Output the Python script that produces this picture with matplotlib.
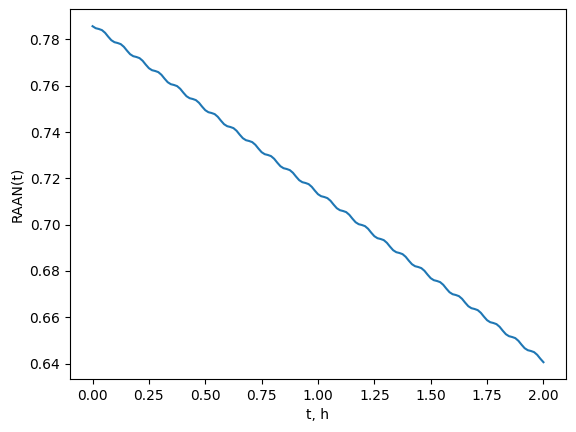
import numpy as np
import matplotlib
matplotlib.use("Agg")
import matplotlib.pyplot as plt

raan = [
    0.78570, 0.78484, 0.78450, 0.78401, 0.78286, 0.78118,
    0.77965, 0.77879, 0.77845, 0.77796, 0.77681, 0.77514,
    0.77361, 0.77275, 0.77241, 0.77192, 0.77077, 0.76909,
    0.76756, 0.76670, 0.76636, 0.76587, 0.76472, 0.76305,
    0.76152, 0.76066, 0.76032, 0.75983, 0.75867, 0.75700,
    0.75547, 0.75461, 0.75427, 0.75378, 0.75263, 0.75095,
    0.74943, 0.74856, 0.74822, 0.74774, 0.74658, 0.74491,
    0.74338, 0.74252, 0.74218, 0.74169, 0.74054, 0.73886,
    0.73734, 0.73647, 0.73613, 0.73564, 0.73449, 0.73282,
    0.73129, 0.73043, 0.73009, 0.72960, 0.72845, 0.72677,
    0.72524, 0.72438, 0.72404, 0.72355, 0.72240, 0.72073,
    0.71920, 0.71834, 0.71800, 0.71751, 0.71635, 0.71468,
    0.71315, 0.71229, 0.71195, 0.71146, 0.71031, 0.70864,
    0.70711, 0.70625, 0.70590, 0.70542, 0.70426, 0.70259,
    0.70106, 0.70020, 0.69986, 0.69937, 0.69822, 0.69654,
    0.69502, 0.69415, 0.69381, 0.69333, 0.69217, 0.69050,
    0.68897, 0.68811, 0.68777, 0.68728, 0.68613, 0.68445,
    0.68293, 0.68206, 0.68172, 0.68123, 0.68008, 0.67841,
    0.67688, 0.67602, 0.67568, 0.67519, 0.67404, 0.67236,
    0.67083, 0.66997, 0.66963, 0.66914, 0.66799, 0.66632,
    0.66479, 0.66393, 0.66359, 0.66310, 0.66194, 0.66027,
    0.65874, 0.65788, 0.65754, 0.65705, 0.65590, 0.65422,
    0.65270, 0.65184, 0.65149, 0.65101, 0.64985, 0.64818,
    0.64665, 0.64579, 0.64545, 0.64496, 0.64381, 0.64213,
    0.64061,
]
t_start = 0.0
t_end = 2.0
t_hours = np.linspace(t_start, t_end, len(raan))

x_label = "t, h"
y_label = "RAAN(t)"

fig = plt.figure(figsize=(5.76, 4.32), dpi=100)
ax = fig.add_axes([70 / 576, 53 / 432, 496 / 576, 369.6 / 432])
ax.plot(t_hours, raan, color="#1f77b4", linewidth=1.5)
ax.set_xlabel(x_label)
ax.set_ylabel(y_label)
fig.savefig("out.png", dpi=100)
